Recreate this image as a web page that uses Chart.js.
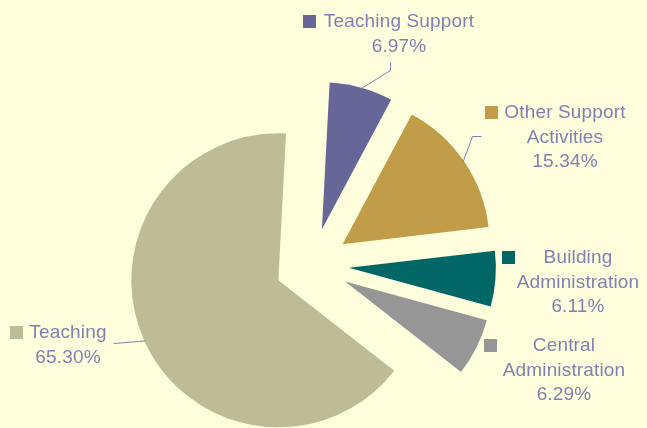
<!DOCTYPE html>
<html><head><meta charset="utf-8">
<script src="https://cdn.jsdelivr.net/npm/chart.js@4.4.1/dist/chart.umd.min.js"></script>
<style>html,body{margin:0;padding:0;background:#FFFFDD;overflow:hidden}#c{display:block;background:#FFFFDD}</style>
</head><body>
<canvas id="c" width="647" height="428"></canvas>
<script>
// ---- data ----
const categories = ['Teaching Support', 'Other Support Activities', 'Building Administration', 'Central Administration', 'Teaching'];
const nameLines = [['Teaching Support'], ['Other Support', 'Activities'], ['Building', 'Administration'], ['Central', 'Administration'], ['Teaching']];
const values = [6.97, 15.34, 6.11, 6.29, 65.30];
const percentLabels = ['6.97%', '15.34%', '6.11%', '6.29%', '65.30%'];

// ---- style ----
const colors = ['#666699', '#C19D4A', '#006666', '#969696', '#BBBD95'];
const textColor = '#8080B4';
const explode = 37; // pixel explosion of every slice
const labelLayout = [
  {cx: 399, y: 27, sq: 303, leader: [[390, 62], [390, 70]]},
  {cx: 565, y: 118, sq: 485, leader: [[481, 136], [472, 136]]},
  {cx: 578, y: 263, sq: 502, leader: null},
  {cx: 564, y: 351, sq: 484, leader: null},
  {cx: 68, y: 338, sq: 10, leader: [[113, 343]]}
];
const lineH = 24.7;

// explode each arc by a constant distance without changing its radius
const origArcDraw = Chart.ArcElement.prototype.draw;
Chart.ArcElement.prototype.draw = function (ctx) {
  const h = (this.startAngle + this.endAngle) / 2;
  ctx.save();
  ctx.translate(Math.cos(h) * explode, Math.sin(h) * explode);
  origArcDraw.call(this, ctx);
  ctx.restore();
};

const labelPlugin = {
  id: 'sliceLabels',
  afterDatasetsDraw(chart) {
    const ctx = chart.ctx;
    const meta = chart.getDatasetMeta(0);
    ctx.save();
    ctx.font = '19px "Liberation Sans", Arial, sans-serif';
    if ('letterSpacing' in ctx) ctx.letterSpacing = '0.15px';
    meta.data.forEach((arc, i) => {
      const L = labelLayout[i];
      const lines = nameLines[i].concat([percentLabels[i]]);
      if (L.leader) {
        const p = arc.getProps(['x', 'y', 'startAngle', 'endAngle', 'outerRadius']);
        const h = (p.startAngle + p.endAngle) / 2;
        const ex = p.x + Math.cos(h) * (explode + p.outerRadius - 1);
        const ey = p.y + Math.sin(h) * (explode + p.outerRadius - 1);
        ctx.beginPath();
        ctx.strokeStyle = textColor;
        ctx.lineWidth = 1;
        ctx.moveTo(L.leader[0][0] + 0.5, L.leader[0][1] + 0.5);
        for (let k = 1; k < L.leader.length; k++) ctx.lineTo(L.leader[k][0] + 0.5, L.leader[k][1] + 0.5);
        ctx.lineTo(ex, ey);
        ctx.stroke();
      }
      ctx.fillStyle = colors[i];
      ctx.fillRect(L.sq, L.y - 12, 13, 13);
      ctx.fillStyle = textColor;
      ctx.textAlign = 'center';
      ctx.textBaseline = 'alphabetic';
      lines.forEach((s, k) => ctx.fillText(s, L.cx, L.y + k * lineH));
    });
    ctx.restore();
  }
};

new Chart(document.getElementById('c'), {
  type: 'pie',
  data: {
    labels: categories,
    datasets: [{
      data: values,
      backgroundColor: colors,
      borderWidth: 0,
      offset: 0,
      hoverOffset: 0
    }]
  },
  options: {
    responsive: false,
    animation: false,
    devicePixelRatio: 1,
    rotation: 3,
    radius: 147,
    layout: {padding: {left: 0, right: 23, top: 102, bottom: 0}},
    plugins: {legend: {display: false}, tooltip: {enabled: false}},
    events: []
  },
  plugins: [labelPlugin]
});
</script>
</body></html>
